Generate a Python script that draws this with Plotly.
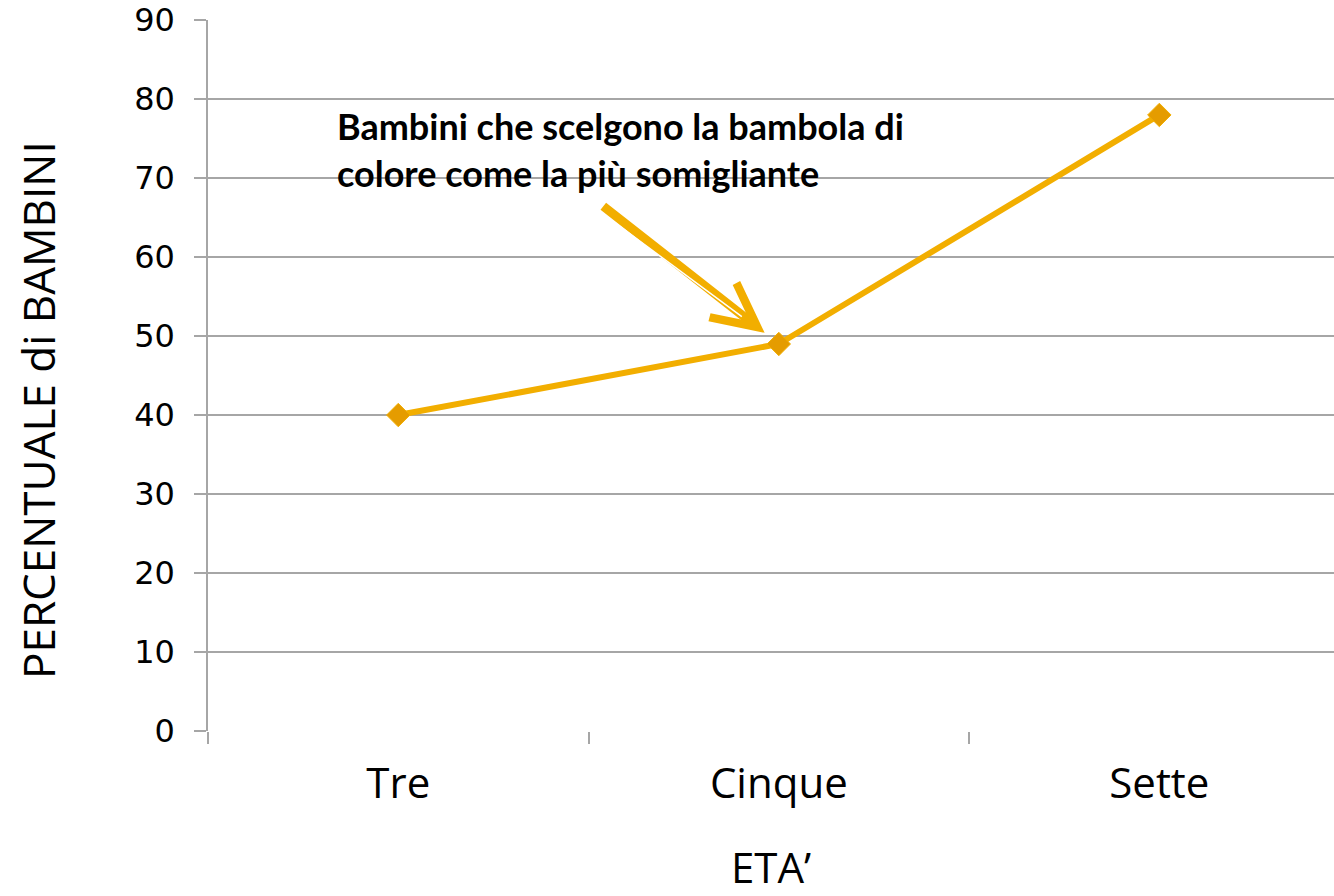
import plotly.graph_objects as go

categories = ["Tre", "Cinque", "Sette"]
values = [40, 49, 78]
y_ticks = [0, 10, 20, 30, 40, 50, 60, 70, 80, 90]

LINE = "#F2AE00"
MARK = "#E59C00"
GRID = "#A6A6A6"

fig = go.Figure()
fig.add_trace(go.Scatter(
    x=categories, y=values, mode="lines+markers",
    line=dict(color=LINE, width=6),
    marker=dict(symbol="diamond", size=18, color=MARK, line=dict(color=LINE, width=1)),
    showlegend=False, cliponaxis=False,
))

# arrow pointing at the "Cinque" point
fig.add_annotation(
    x=1, y=49, xref="x", yref="y",
    ax=602 - 779, ay=205 - 344, axref="pixel", ayref="pixel",
    text="", showarrow=True, arrowhead=5, arrowsize=0.95, arrowwidth=9,
    arrowcolor=LINE, standoff=18,
)
# thin white gap inside the shaft (double-line look)
fig.add_annotation(
    x=1, y=49, xref="x", yref="y",
    ax=598 - 779, ay=210 - 344, axref="pixel", ayref="pixel",
    text="", showarrow=True, arrowhead=0, arrowwidth=1.5,
    arrowcolor="white", standoff=46,
)
fig.add_annotation(
    x=0, y=1, xref="paper", yref="paper",
    text="<b>Bambini che scelgono la bambola di<br>colore come la più somigliante</b>",
    showarrow=False, align="left", xanchor="left", yanchor="top",
    xshift=335 - 208, yshift=-(102 - 20),
    font=dict(family="Lato", size=36, color="#000000"),
)
# y-axis title
fig.add_annotation(
    x=0, y=(731 - 410) / 711, xref="paper", yref="paper",
    text="PERCENTUALE di BAMBINI", textangle=-90,
    showarrow=False, xanchor="center", yanchor="middle",
    xshift=38 - 208,
    font=dict(family="Open Sans", size=44, color="#000000"),
)

fig.update_layout(
    width=1334, height=896,
    margin=dict(l=208, r=0, t=20, b=165),
    paper_bgcolor="white", plot_bgcolor="white",
    xaxis=dict(
        type="category", range=[-0.5, 2.459], automargin=False,
        showgrid=False, showline=False, zeroline=False,
        ticks="outside", tickson="boundaries", ticklen=12, tickcolor=GRID, tickwidth=1.5,
        tickfont=dict(family="Open Sans", size=42, color="#000000"),
        ticklabelstandoff=24,
        title=dict(text="ETA’", font=dict(family="Open Sans", size=42, color="#000000"), standoff=44),
    ),
    yaxis=dict(
        range=[0, 90.02], tickvals=y_ticks, automargin=False,
        showgrid=True, gridcolor=GRID, gridwidth=1.5,
        showline=True, linecolor=GRID, linewidth=1.5, zeroline=False,
        ticks="outside", ticklen=12, tickcolor=GRID, tickwidth=1.5,
        tickfont=dict(family="DejaVu Sans", size=32, color="#000000"),
        ticklabelstandoff=13, ticklabeloverflow="allow",
    ),
)
fig.write_html("out.html", config={"displayModeBar": False},
               post_script="document.body.style.margin='0';")
